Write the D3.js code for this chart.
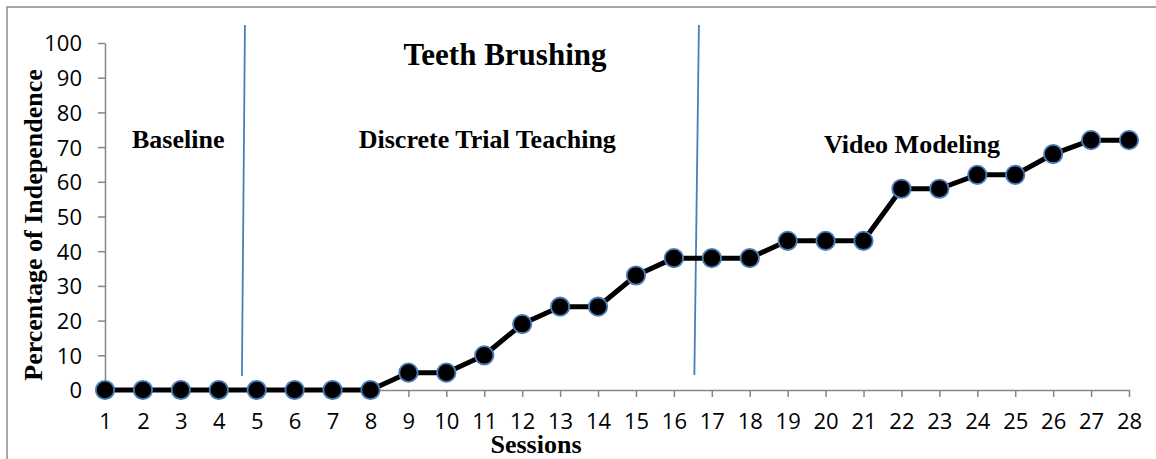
<!DOCTYPE html>
<html>
<head>
<meta charset="utf-8">
<script src="https://cdn.jsdelivr.net/npm/d3@7"></script>
<style>
  html, body { margin: 0; padding: 0; background: #fff; }
  svg { display: block; }
</style>
</head>
<body>
<svg id="chart" width="1156" height="459"></svg>
<script>
// ---- data ----
const sessions = d3.range(1, 29);
const independence = [0, 0, 0, 0, 0, 0, 0, 0, 5, 5, 10, 19, 24, 24, 33, 38, 38, 38, 43, 43, 43, 58, 58, 62, 62, 68, 72, 72];
const yTicks = [0, 10, 20, 30, 40, 50, 60, 70, 80, 90, 100];
// phase change lines (session position at top / bottom, value extent)
const phaseTopX = [4.69, 16.66];
const phaseBottomX = [4.61, 16.54];
const phaseTopY = [105.2, 105.2];
const phaseBottomY = [4.0, 4.3];
const phaseLabels = ["Baseline", "Discrete Trial Teaching", "Video Modeling"];
const phaseLabelX = [2.93, 11.08, 22.28];
const titleText = "Teeth Brushing";
const xTitle = "Sessions";
const yTitle = "Percentage of Independence";

// ---- layout ----
const svg = d3.select("#chart");
const x = d3.scaleLinear().domain([1, 28]).range([105, 1129]);
const y = d3.scaleLinear().domain([0, 100]).range([390, 43]);
const axisColor = "#868686";
const blue = "#4a7ebb";
const serif = "'Liberation Serif', 'Times New Roman', serif";
const sans = "'Open Sans', 'Noto Sans', sans-serif";

// outer frame
svg.append("rect")
  .attr("x", 7).attr("y", 7)
  .attr("width", 1170).attr("height", 470)
  .attr("fill", "none").attr("stroke", "#8a8a8a").attr("stroke-width", 1.5);

// y axis
const yAxis = d3.axisLeft(y).tickValues(yTicks).tickSize(7).tickPadding(16).tickSizeOuter(0);
const gy = svg.append("g").attr("transform", `translate(${x(1)},0)`).call(yAxis);
gy.select(".domain").attr("stroke", axisColor).attr("stroke-width", 1.5);
gy.selectAll(".tick line").attr("stroke", axisColor).attr("stroke-width", 1.5);
gy.selectAll(".tick text").attr("font-family", sans).attr("font-size", 22).attr("fill", "#000")
  .attr("dy", "0.36em");

// x axis
const xAxis = d3.axisBottom(x).tickValues(sessions).tickFormat(d3.format("d")).tickSize(7).tickPadding(12).tickSizeOuter(0);
const gx = svg.append("g").attr("transform", `translate(0,${y(0)})`).call(xAxis);
gx.select(".domain").attr("stroke", axisColor).attr("stroke-width", 1.5);
gx.selectAll(".tick line").attr("stroke", axisColor).attr("stroke-width", 1.5);
gx.selectAll(".tick text").attr("font-family", sans).attr("font-size", 22).attr("fill", "#000")
  .attr("dy", "0.9em");

// phase lines
svg.selectAll(".phase").data(phaseTopX).enter().append("line")
  .attr("class", "phase")
  .attr("x1", (d) => x(d)).attr("y1", (d, i) => y(phaseTopY[i]))
  .attr("x2", (d, i) => x(phaseBottomX[i])).attr("y2", (d, i) => y(phaseBottomY[i]))
  .attr("stroke", blue).attr("stroke-width", 1.8);

// data line
const pts = sessions.map((s, i) => [s, independence[i]]);
svg.append("path")
  .datum(pts)
  .attr("d", d3.line().x(d => x(d[0])).y(d => y(d[1])))
  .attr("fill", "none").attr("stroke", "#000").attr("stroke-width", 5).attr("stroke-linejoin", "round");

svg.selectAll(".pt").data(pts).enter().append("circle")
  .attr("class", "pt")
  .attr("cx", d => x(d[0])).attr("cy", d => y(d[1]))
  .attr("r", 9.2)
  .attr("fill", "#000").attr("stroke", blue).attr("stroke-width", 1.8);

// title
svg.append("text").text(titleText)
  .attr("x", 505).attr("y", 65).attr("text-anchor", "middle")
  .attr("font-family", serif).attr("font-weight", "bold").attr("font-size", 31).attr("fill", "#000");

// phase labels
const labelY = [148, 148, 153];
svg.selectAll(".plabel").data(phaseLabels).enter().append("text")
  .attr("class", "plabel")
  .text(d => d)
  .attr("x", (d, i) => x(phaseLabelX[i])).attr("y", (d, i) => labelY[i])
  .attr("text-anchor", "middle")
  .attr("font-family", serif).attr("font-weight", "bold").attr("font-size", 26).attr("fill", "#000");

// axis titles
svg.append("text").text(xTitle)
  .attr("x", 536).attr("y", 453).attr("text-anchor", "middle")
  .attr("font-family", serif).attr("font-weight", "bold").attr("font-size", 26).attr("fill", "#000");

svg.append("text").text(yTitle)
  .attr("transform", "translate(42,225) rotate(-90)")
  .attr("text-anchor", "middle")
  .attr("font-family", serif).attr("font-weight", "bold").attr("font-size", 26).attr("fill", "#000");
</script>
</body>
</html>
